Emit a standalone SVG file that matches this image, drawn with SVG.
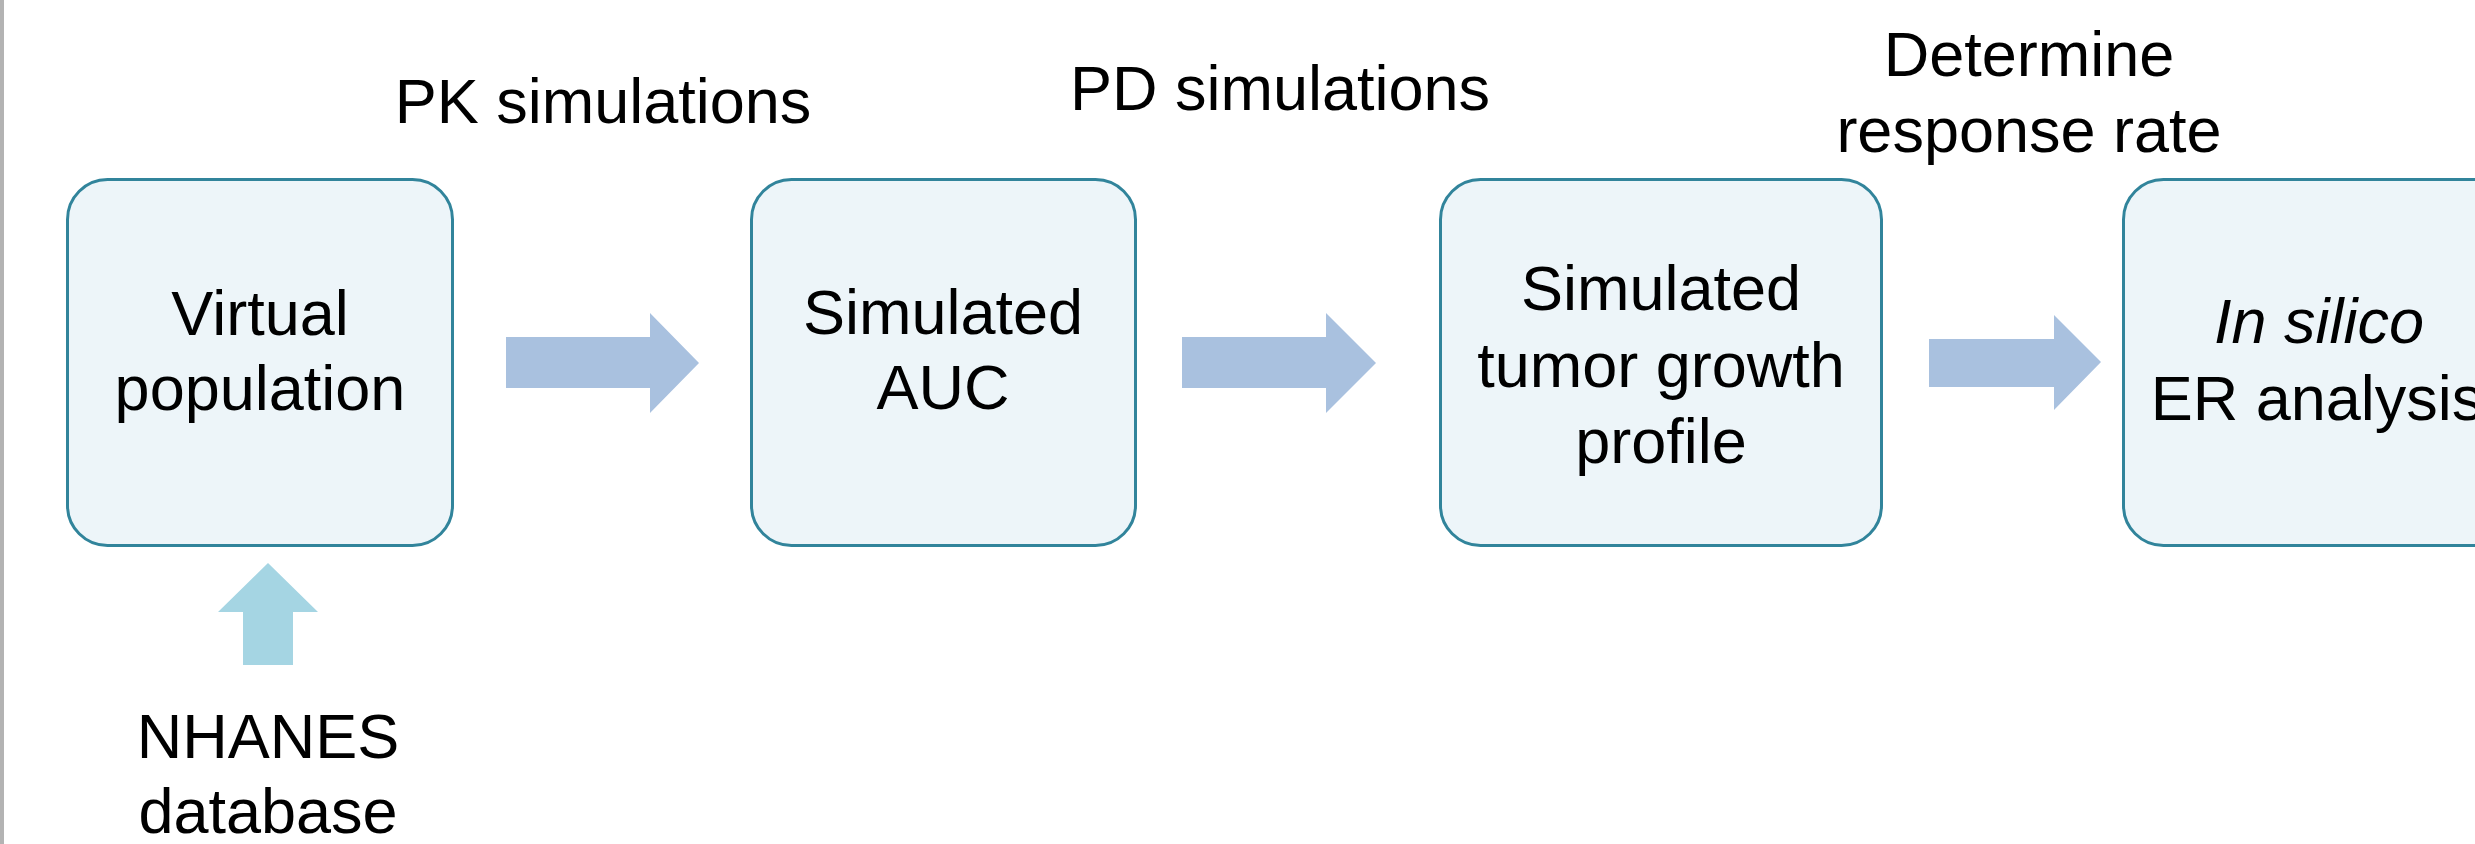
<svg xmlns="http://www.w3.org/2000/svg" width="2475" height="844" viewBox="0 0 2475 844">
<style>
.box{fill:#edf5f9;stroke:#31849b;stroke-width:3}
.t{font-family:"Liberation Sans",Arial,sans-serif;font-size:63px;fill:#000;text-anchor:middle}
.arr{fill:#a9c1df}
.up{fill:#a5d5e3}
</style>
<rect x="0" y="0" width="2475" height="844" fill="#fff"/>
<rect x="0" y="0" width="4" height="844" fill="#b3b3b3"/>
<g id="labels">
<text class="t" x="603" y="123">PK simulations</text>
<text class="t" x="1280" y="110">PD simulations</text>
<text class="t" x="2029" y="76">Determine</text>
<text class="t" x="2029" y="152">response rate</text>
</g>
<g id="connectors">
<polygon class="arr" points="506,337 650,337 650,313 699,363 650,413 650,388 506,388"/>
<polygon class="arr" points="1182,337 1326,337 1326,313 1376,363 1326,413 1326,388 1182,388"/>
<polygon class="arr" points="1929,339 2054,339 2054,315 2101,362 2054,410 2054,387 1929,387"/>
<polygon class="up" points="268,563 318,612 293,612 293,665 243,665 243,612 218,612"/>
</g>
<g id="node-virtual-population">
<rect class="box" x="67.5" y="179.5" width="385" height="366" rx="40"/>
<text class="t" x="260" y="335">Virtual</text>
<text class="t" x="260" y="410">population</text>
</g>
<g id="node-simulated-auc">
<rect class="box" x="751.5" y="179.5" width="384" height="366" rx="40"/>
<text class="t" x="943" y="334">Simulated</text>
<text class="t" x="943" y="409">AUC</text>
</g>
<g id="node-tumor-growth">
<rect class="box" x="1440.5" y="179.5" width="441" height="366" rx="40"/>
<text class="t" x="1661" y="310">Simulated</text>
<text class="t" x="1661" y="387">tumor growth</text>
<text class="t" x="1661" y="463">profile</text>
</g>
<g id="node-er-analysis">
<rect class="box" x="2123.5" y="179.5" width="390" height="366" rx="40"/>
<text class="t" x="2319" y="343" font-style="italic">In silico</text>
<text class="t" x="2317" y="420">ER analysis</text>
</g>
<g id="node-nhanes">
<text class="t" x="268" y="758">NHANES</text>
<text class="t" x="268" y="833">database</text>
</g>
</svg>
